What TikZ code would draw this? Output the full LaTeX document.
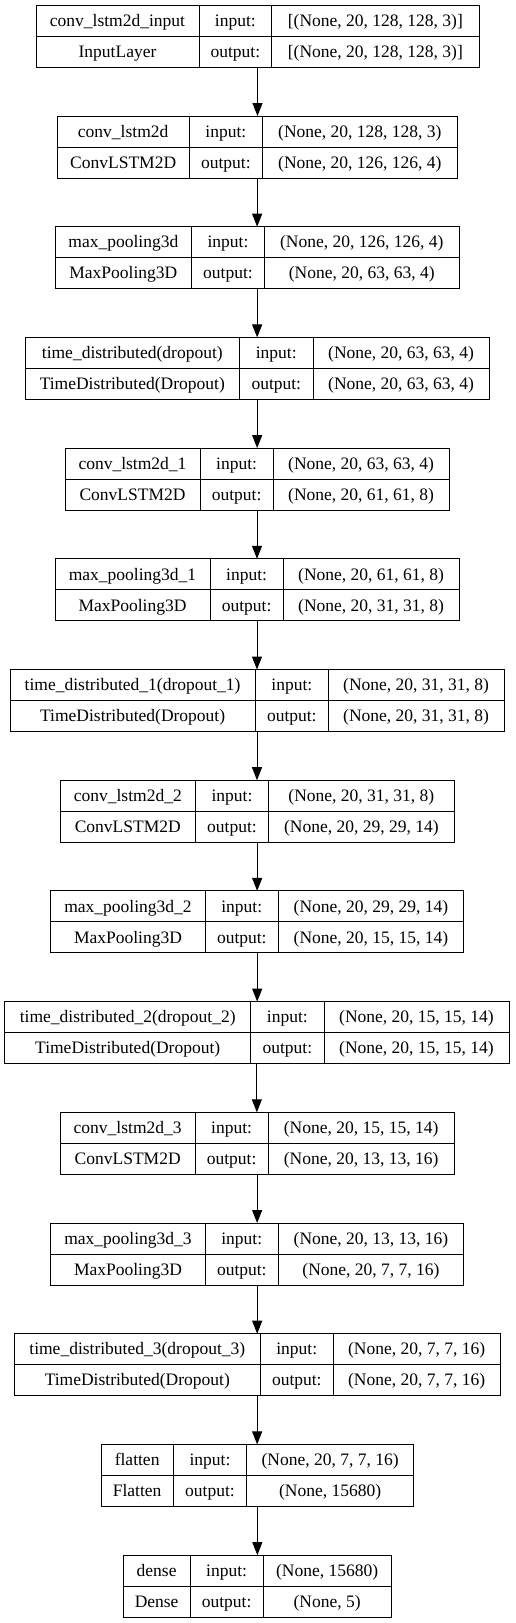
\documentclass[tikz,border=0pt]{standalone}
\usepackage{fontspec}
\setmainfont{Liberation Serif}
\usetikzlibrary{arrows.meta}

\tikzset{
    layerbox/.style = {draw, line width=1pt, inner sep=0pt, outer sep=0pt, anchor=north west},
    celltext/.style = {inner sep=0pt, text height=11.5pt, text depth=0pt, font=\rmfamily\fontsize{17.5}{20}\selectfont},
    flow/.style     = {-{Triangle[length=13pt, width=10pt]}, line width=1pt},
}

% cols: left / first divider / second divider / right
\def\splitcols#1/#2/#3/#4\relax{\def\cL{#1}\def\cA{#2}\def\cB{#3}\def\cR{#4}}

% #1 node, #2 row index, #3 cols, #4 layer, #5 class, #6 input, #7 output
\newcommand\layer[7]{%
    \pgfmathsetmacro\yt{5.3+110.7*#2}%
    \splitcols#3\relax
    \pgfmathsetmacro\boxw{\cR-\cL}%
    \node[layerbox, minimum width=\boxw pt, minimum height=62pt] (#1) at (\cL, \yt) {};
    \draw[line width=1pt]
        (\cL, \yt+31) -- (\cR, \yt+31)
        (\cA, \yt) -- (\cA, \yt+62)
        (\cB, \yt) -- (\cB, \yt+62);
    \node[celltext] (#1-name)  at ({(\cL+\cA)/2}, \yt+15.5) {#4};
    \node[celltext] (#1-class) at ({(\cL+\cA)/2}, \yt+46.5) {#5};
    \node[celltext] (#1-inl)   at ({(\cA+\cB)/2}, \yt+15.5) {input:};
    \node[celltext] (#1-outl)  at ({(\cA+\cB)/2}, \yt+46.5) {output:};
    \node[celltext] (#1-in)    at ({(\cB+\cR)/2}, \yt+15.5) {#6};
    \node[celltext] (#1-out)   at ({(\cB+\cR)/2}, \yt+46.5) {#7};
}

\begin{document}
\begin{tikzpicture}[x=1pt, y=-1pt]
    \useasboundingbox (0, 0) rectangle (515, 1623);

    \layer{l1}{0}{36/199/271.7/479}{conv\_lstm2d\_input}{InputLayer}{[(None, 20, 128, 128, 3)]}{[(None, 20, 128, 128, 3)]}
    \layer{l2}{1}{57.3/189/262.7/457}{conv\_lstm2d}{ConvLSTM2D}{(None, 20, 128, 128, 3)}{(None, 20, 126, 126, 4)}
    \layer{l3}{2}{55/191.7/264.3/459.3}{max\_pooling3d}{MaxPooling3D}{(None, 20, 126, 126, 4)}{(None, 20, 63, 63, 4)}
    \layer{l4}{3}{25.3/239.3/313.3/489}{time\_distributed(dropout)}{TimeDistributed(Dropout)}{(None, 20, 63, 63, 4)}{(None, 20, 63, 63, 4)}
    \layer{l5}{4}{65/200/273.3/449}{conv\_lstm2d\_1}{ConvLSTM2D}{(None, 20, 63, 63, 4)}{(None, 20, 61, 61, 8)}
    \layer{l6}{5}{55/210/283.3/459}{max\_pooling3d\_1}{MaxPooling3D}{(None, 20, 61, 61, 8)}{(None, 20, 31, 31, 8)}
    \layer{l7}{6}{10/255.3/328.3/504}{time\_distributed\_1(dropout\_1)}{TimeDistributed(Dropout)}{(None, 20, 31, 31, 8)}{(None, 20, 31, 31, 8)}
    \layer{l8}{7}{60.3/195.3/268.7/454}{conv\_lstm2d\_2}{ConvLSTM2D}{(None, 20, 31, 31, 8)}{(None, 20, 29, 29, 14)}
    \layer{l9}{8}{50.7/205.3/278.3/463.7}{max\_pooling3d\_2}{MaxPooling3D}{(None, 20, 29, 29, 14)}{(None, 20, 15, 15, 14)}
    \layer{l10}{9}{4.7/250.7/324/509}{time\_distributed\_2(dropout\_2)}{TimeDistributed(Dropout)}{(None, 20, 15, 15, 14)}{(None, 20, 15, 15, 14)}
    \layer{l11}{10}{60.3/195/268.3/454}{conv\_lstm2d\_3}{ConvLSTM2D}{(None, 20, 15, 15, 14)}{(None, 20, 13, 13, 16)}
    \layer{l12}{11}{50.7/205.3/278.3/463.7}{max\_pooling3d\_3}{MaxPooling3D}{(None, 20, 13, 13, 16)}{(None, 20, 7, 7, 16)}
    \layer{l13}{12}{14.3/260.3/333.3/500}{time\_distributed\_3(dropout\_3)}{TimeDistributed(Dropout)}{(None, 20, 7, 7, 16)}{(None, 20, 7, 7, 16)}
    \layer{l14}{13}{101/173.3/246.7/413.7}{flatten}{Flatten}{(None, 20, 7, 7, 16)}{(None, 15680)}
    \layer{l15}{14}{123.3/190/263.3/391}{dense}{Dense}{(None, 15680)}{(None, 5)}

    \foreach \i [evaluate=\i as \j using int(\i+1)] in {1,...,14}
        \draw[flow] (l\i.south) -- (l\i.south |- l\j.north);
\end{tikzpicture}
\end{document}
